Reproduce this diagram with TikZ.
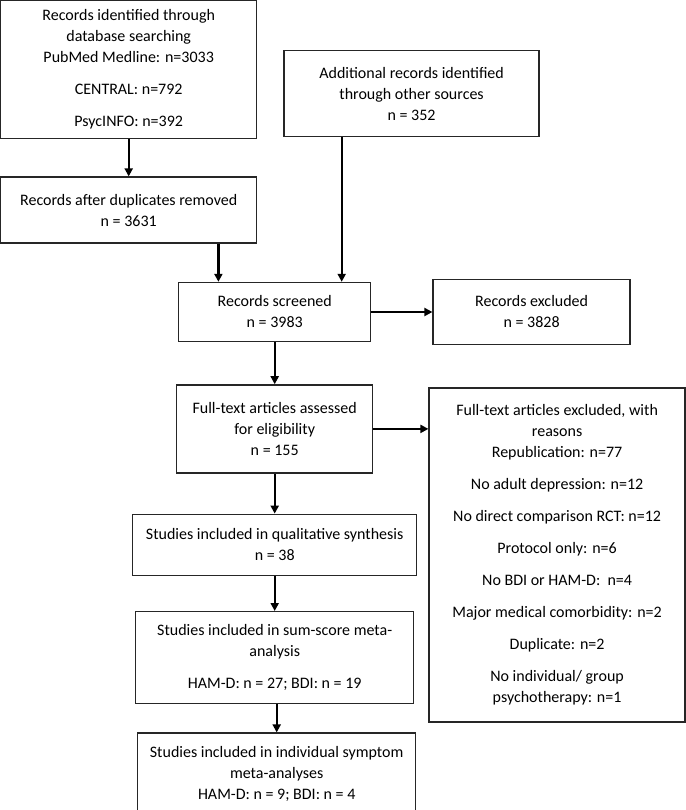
\documentclass[tikz,border=0pt]{standalone}
\usepackage{fontspec}
\setmainfont{Carlito}
\usetikzlibrary{arrows.meta,positioning}

\begin{document}
\begin{tikzpicture}[x=1pt,y=1pt,>={Triangle[length=8pt,width=8pt]}]
    \tikzstyle{block}=[draw=black!85, line width=1.4pt, align=center, inner sep=2pt,
        font=\fontsize{16}{21}\selectfont]
    \tikzstyle{flow}=[->, line width=2.2pt]

    \useasboundingbox (0,0) rectangle (685,-810);

    \node[block, minimum width=256pt, minimum height=138pt, anchor=north west] (db) at (0,0)
        {Records identified through\\ database searching\\ PubMed Medline: n=3033\\[11pt]
         CENTRAL: n=792\\[11pt] PsycINFO: n=392};
    \node[block, minimum width=256pt, minimum height=66pt] (dup) [below=37pt of db]
        {Records after duplicates removed\\ n = 3631};
    \node[block, minimum width=255pt, minimum height=86pt] (other) [right=26pt of db, yshift=-24pt]
        {Additional records identified\\ through other sources\\ n = 352};
    \node[block, minimum width=192pt, minimum height=59pt] (screened) [below=38pt of dup, xshift=146pt]
        {Records screened\\ n = 3983};
    \node[block, minimum width=197pt, minimum height=65pt] (excluded) [right=61pt of screened]
        {Records excluded\\ n = 3828};
    \node[block, minimum width=196pt, minimum height=88pt] (fulltext) [below=42pt of screened]
        {Full-text articles assessed\\ for eligibility\\ n = 155};
    \node[block, minimum width=256pt, minimum height=334pt] (reasons)
        [right=55pt of fulltext.north east, anchor=north west, yshift=-3pt]
        {Full-text articles excluded, with\\ reasons\\ Republication: n=77\\[11pt]
         No adult depression: n=12\\[11pt] No direct comparison RCT: n=12\\[11pt]
         Protocol only: n=6\\[11pt] No BDI or HAM-D:\ \ n=4\\[11pt]
         Major medical comorbidity: n=2\\[11pt] Duplicate: n=2\\[11pt]
         No individual/ group\\ psychotherapy: n=1};
    \node[block, minimum width=284pt, minimum height=61pt] (qualitative) [below=40pt of fulltext]
        {Studies included in qualitative synthesis\\ n = 38};
    \node[block, minimum width=278pt, minimum height=92pt] (sumscore) [below=35pt of qualitative]
        {Studies included in sum-score meta-\\ analysis\\[11pt] HAM-D: n = 27; BDI: n = 19};
    \node[block, minimum width=278pt, minimum height=82pt] (symptom) [below=28pt of sumscore, xshift=2pt]
        {Studies included in individual symptom\\ meta-analyses\\ HAM-D: n = 9; BDI: n = 4};

    \path[flow]
    (db) edge (dup)
    ([xshift=-39pt]dup.south east) edge ([xshift=-39pt]dup.south east |- screened.north)
    ([xshift=67pt]screened.north |- other.south) edge ([xshift=67pt]screened.north)
    (screened.east) edge (screened.east -| excluded.west)
    (screened) edge (fulltext)
    (fulltext.east) edge (fulltext.east -| reasons.west)
    (fulltext) edge (qualitative)
    (qualitative) edge (sumscore)
    (sumscore.south -| symptom.north) edge (symptom);
\end{tikzpicture}
\end{document}
